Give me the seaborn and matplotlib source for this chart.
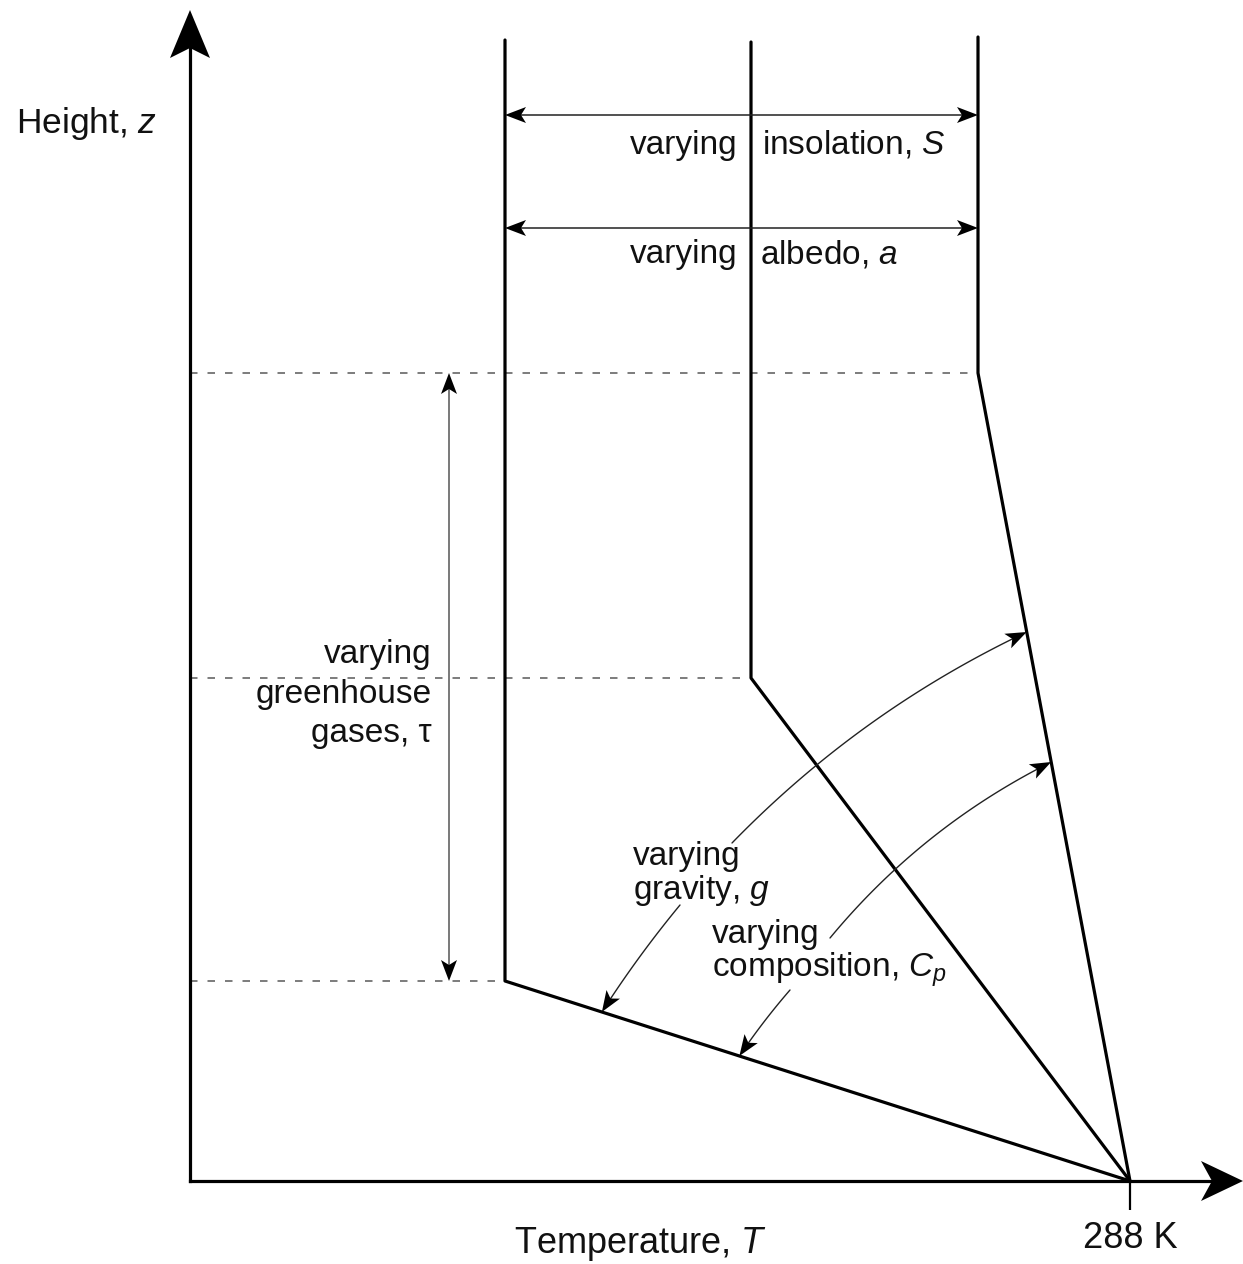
import numpy as np
import pandas as pd
import matplotlib
matplotlib.use("Agg")
import matplotlib.pyplot as plt
import seaborn as sns

# --- Schematic temperature profiles (T from the axis origin, z above ground) ---
profile_names = ["low tropopause", "middle tropopause", "high tropopause"]
tropopause_T = [315, 561, 788]
tropopause_z = [200, 503, 808]
profile_top_z = [1141, 1139, 1144]
surface_T = 940
surface_label = "288 K"

# Heights (z) of the horizontal "varying S" and "varying a" arrows
insolation_arrow_z = 1066
albedo_arrow_z = 953
# T position of the vertical greenhouse-gas arrow
greenhouse_arrow_T = 259

# Curved lapse-rate arrows: tail point and the height where the head meets a profile
gravity_tails = [(542, 338), (490, 276)]
gravity_tip_z = [549, 169]
composition_tails = [(640, 243), (600, 191)]
composition_tip_z = [419, 125]

sns.set_theme(style="white")
plt.rcParams["font.family"] = ["Liberation Sans", "DejaVu Sans"]
plt.rcParams["mathtext.fontset"] = "custom"
plt.rcParams["mathtext.rm"] = "Liberation Sans"
plt.rcParams["mathtext.it"] = "Liberation Sans:italic"
plt.rcParams["mathtext.bf"] = "Liberation Sans:bold"

FS = 24          # annotation text
FS_AXIS = 26     # axis titles and tick label
INK = "black"
TXT = "#111111"

rows = []
for name, tT, tz, top in zip(profile_names, tropopause_T, tropopause_z, profile_top_z):
    rows += [(name, tT, top), (name, tT, tz), (name, surface_T, 0)]
profiles = pd.DataFrame(rows, columns=["profile", "T", "z"])

fig = plt.figure(figsize=(12.43, 12.64), dpi=100)
ax = fig.add_axes([0, 0, 1, 1])
ax.set_xlim(-190, 1053)
ax.set_ylim(-83, 1181)
ax.patch.set_alpha(0)


def slope_T(idx, z):
    """Temperature on the sloping (tropospheric) part of profile idx at height z."""
    return np.interp(z, [0, tropopause_z[idx]], [surface_T, tropopause_T[idx]])


def arrow_head(tip, direction, length=21, half_width=8, notch=5, color=INK):
    d = np.asarray(direction, float)
    d = d / np.hypot(*d)
    n = np.array([-d[1], d[0]])
    tip = np.asarray(tip, float)
    base = tip - d * length
    pts = np.array([tip, base + n * half_width, tip - d * (length - notch),
                    base - n * half_width])
    ax.fill(pts[:, 0], pts[:, 1], color=color, lw=0, zorder=6)


def double_arrow(p0, p1, color="#222222", lw=1.1):
    p0, p1 = np.asarray(p0, float), np.asarray(p1, float)
    d = (p1 - p0) / np.hypot(*(p1 - p0))
    a, b = p0 + d * 12, p1 - d * 12
    ax.plot([a[0], b[0]], [a[1], b[1]], color=color, lw=lw, zorder=4,
            solid_capstyle="butt")
    arrow_head(p1, d)
    arrow_head(p0, -d)


def bent_arrow(tail, tip, rad, color="#222222", lw=1.0):
    p0, p1 = np.asarray(tail, float), np.asarray(tip, float)
    dx, dy = p1 - p0
    c = (p0 + p1) / 2 + rad * np.array([dy, -dx])
    chord = np.hypot(dx, dy)
    t = np.linspace(0, 1 - 12 / chord, 80)[:, None]
    pts = (1 - t) ** 2 * p0 + 2 * t * (1 - t) * c + t ** 2 * p1
    ax.plot(pts[:, 0], pts[:, 1], color=color, lw=lw, zorder=4)
    arrow_head(p1, p1 - c)


# Dashed guides at each tropopause height
ax.hlines(tropopause_z, 0, tropopause_T, colors="#666666", lw=1.2,
          linestyles=(0, (4.5, 6)), zorder=2)

# The three temperature profiles
sns.lineplot(data=profiles, x="T", y="z", units="profile", estimator=None,
             sort=False, color=INK, lw=2.3, ax=ax, zorder=3, legend=False)

# Axes drawn as arrows through the origin
for side in ["top", "right"]:
    ax.spines[side].set_visible(False)
for side in ["left", "bottom"]:
    ax.spines[side].set_position(("data", 0))
    ax.spines[side].set_linewidth(2.3)
    ax.spines[side].set_color(INK)
ax.spines["left"].set_bounds(0, 1135)
ax.spines["bottom"].set_bounds(0, 1020)
arrow_head((0, 1171), (0, 1), length=48, half_width=20, notch=10)
arrow_head((1053, 0), (1, 0), length=42, half_width=20, notch=11)

ax.set_yticks([])
ax.set_xticks([surface_T], [surface_label])
ax.tick_params(axis="x", direction="out", length=21, width=1.6, color=INK,
               pad=8, labelsize=FS_AXIS, labelcolor=TXT, bottom=True)
ax.set_xlabel("")
ax.set_ylabel("")

ax.text(451, -72, "Temperature, $T$", ha="center", va="baseline", fontsize=FS_AXIS,
        color=TXT)
ax.text(-174, 1048, "Height, $z$", ha="left", va="baseline", fontsize=FS_AXIS - 0.5,
        color=TXT)

# Insolation and albedo shift the stratospheric temperature
double_arrow((tropopause_T[0], insolation_arrow_z), (tropopause_T[2], insolation_arrow_z))
double_arrow((tropopause_T[0], albedo_arrow_z), (tropopause_T[2], albedo_arrow_z))
ax.text(548, 1027, "varying", ha="right", va="baseline", fontsize=FS, color=TXT)
ax.text(572, 1027, "insolation, $S$", ha="left", va="baseline", fontsize=FS, color=TXT)
ax.text(548, 918, "varying", ha="right", va="baseline", fontsize=FS, color=TXT)
ax.text(570, 918, "albedo, $a$", ha="left", va="baseline", fontsize=FS, color=TXT)

# Greenhouse gases move the tropopause height
double_arrow((greenhouse_arrow_T, tropopause_z[0]), (greenhouse_arrow_T, tropopause_z[2]),
             color="#555555", lw=1.1)
for z, s in zip([518, 478, 439], ["varying", "greenhouse", "gases, τ"]):
    ax.text(242, z, s, ha="right", va="baseline", fontsize=FS, color=TXT)

# Gravity and composition change the lapse rate
bent_arrow(gravity_tails[0], (slope_T(2, gravity_tip_z[0]), gravity_tip_z[0]), -0.09)
bent_arrow(gravity_tails[1], (slope_T(0, gravity_tip_z[1]), gravity_tip_z[1]), 0.03)
bent_arrow(composition_tails[0], (slope_T(2, composition_tip_z[0]), composition_tip_z[0]), -0.105)
bent_arrow(composition_tails[1], (slope_T(0, composition_tip_z[1]), composition_tip_z[1]), 0.03)
for z, s in zip([316, 282], ["varying", "gravity, $g$"]):
    ax.text(443, z, s, ha="left", va="baseline", fontsize=FS, color=TXT)
for z, s in zip([238, 204], ["varying", "composition, $C_p$"]):
    ax.text(522, z, s, ha="left", va="baseline", fontsize=FS, color=TXT)

fig.savefig("out.png", dpi=100, facecolor="white")
